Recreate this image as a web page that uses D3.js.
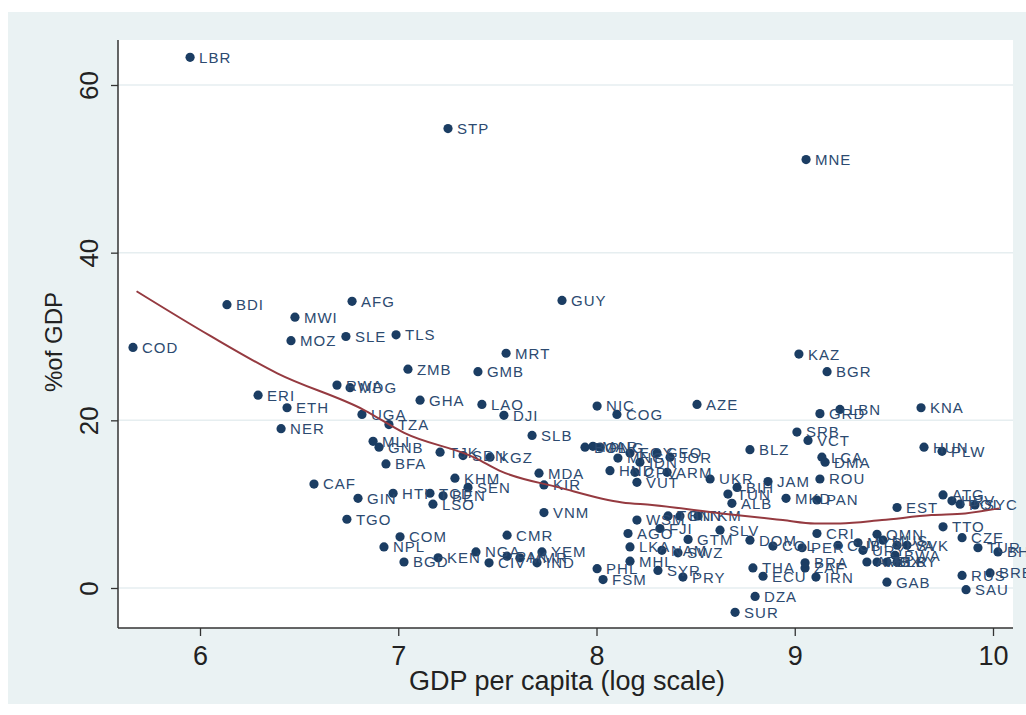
<!DOCTYPE html>
<html>
<head>
<meta charset="utf-8">
<script src="https://cdn.jsdelivr.net/npm/d3@7/dist/d3.min.js"></script>
<style>
  html, body { margin: 0; padding: 0; background: #ffffff; }
  svg { display: block; }
</style>
</head>
<body>
<svg id="chart" width="1026" height="715"></svg>
<script>
// Country codes, log GDP per capita and aid as % of GDP
const codes = [
  "LBR","STP","MNE","BDI","AFG","MWI","GUY","COD","MOZ","SLE",
  "TLS","MRT","ZMB","GMB","KAZ","BGR","RWA","MDG","ERI","ETH",
  "UGA","NER","TZA","GHA","LAO","DJI","NIC","COG","AZE","SLB",
  "MLI","GNB","BFA","TJK","SDN","KGZ","KHM","SEN","HTI","GIN",
  "CAF","TGO","TCD","BEN","LSO","VNM","MDA","KIR","COM","NPL",
  "BGD","KEN","NGA","CIV","YEM","IND","PAK","MMR","CMR","PHL",
  "FSM","BOL","MAR","PNG","MNG","EGY","IDN","GEO","JOR","HND",
  "CPV","ARM","VUT","UKR","BLZ","BIH","TUN","ALB","JAM","MKD",
  "PAN","ROU","SRB","VCT","LCA","DMA","GRD","LBN","KNA","HUN",
  "PLW","WSM","TON","BTN","TKM","AGO","FJI","LKA","SLV","GTM",
  "DOM","COL","PER","NAM","SWZ","MHL","SYR","PRY","THA","ECU",
  "DZA","SUR","ZAF","IRN","CRI","EST","ATG","HRV","POL","SYC",
  "TTO","CZE","TUR","BHS","RUS","BRB","SAU","GAB","OMN","MUS",
  "MYS","URY","LVA","SVK","BWA","ARG","MEX","BLR","LBY","BRA",
  "CUB"
];
const logGdp = [
  5.95, 7.251, 9.057, 6.136, 6.767, 6.479, 7.826, 5.662, 6.459, 6.736,
  6.989, 7.544, 7.049, 7.402, 9.021, 9.163, 6.691, 6.757, 6.293, 6.439,
  6.817, 6.409, 6.953, 7.110, 7.422, 7.533, 8.003, 8.103, 8.507, 7.675,
  6.873, 6.903, 6.938, 7.211, 7.327, 7.463, 7.286, 7.352, 6.974, 6.797,
  6.575, 6.741, 7.160, 7.226, 7.175, 7.735, 7.710, 7.735, 7.009, 6.928,
  7.029, 7.201, 7.392, 7.458, 7.725, 7.700, 7.549, 7.614, 7.549, 8.003,
  8.033, 7.942, 7.982, 8.018, 8.108, 8.169, 8.219, 8.305, 8.371, 8.068,
  8.194, 8.356, 8.204, 8.573, 8.774, 8.709, 8.663, 8.683, 8.865, 8.956,
  9.112, 9.127, 9.011, 9.067, 9.137, 9.153, 9.127, 9.228, 9.637, 9.652,
  9.743, 8.204, 8.361, 8.421, 8.512, 8.159, 8.320, 8.169, 8.623, 8.462,
  8.774, 8.890, 9.037, 8.330, 8.411, 8.169, 8.310, 8.436, 8.789, 8.840,
  8.800, 8.699, 9.052, 9.107, 9.112, 9.516, 9.748, 9.793, 9.834, 9.909,
  9.748, 9.844, 9.924, 10.025, 9.844, 9.985, 9.864, 9.465, 9.415, 9.445,
  9.319, 9.344, 9.516, 9.566, 9.506, 9.364, 9.415, 9.465, 9.516, 9.052,
  9.218
];
const aidShare = [
  63.3, 54.8, 51.1, 33.8, 34.2, 32.3, 34.3, 28.7, 29.5, 30.0,
  30.2, 28.0, 26.1, 25.8, 27.9, 25.8, 24.2, 23.9, 23.0, 21.5,
  20.7, 19.0, 19.5, 22.4, 21.9, 20.6, 21.7, 20.7, 21.9, 18.2,
  17.5, 16.8, 14.8, 16.2, 15.8, 15.6, 13.1, 12.0, 11.3, 10.7,
  12.4, 8.2, 11.3, 11.0, 10.0, 9.0, 13.7, 12.3, 6.1, 4.9,
  3.1, 3.6, 4.3, 3.0, 4.3, 3.0, 3.8, 3.6, 6.3, 2.3,
  1.0, 16.8, 16.9, 16.8, 15.5, 16.1, 15.0, 16.1, 15.6, 14.0,
  13.8, 13.8, 12.6, 13.0, 16.5, 12.0, 11.2, 10.1, 12.7, 10.7,
  10.5, 13.0, 18.6, 17.6, 15.6, 15.0, 20.8, 21.3, 21.5, 16.8,
  16.3, 8.1, 8.6, 8.6, 8.6, 6.5, 7.1, 4.9, 6.9, 5.8,
  5.7, 5.0, 4.8, 4.5, 4.2, 3.2, 2.1, 1.3, 2.4, 1.4,
  -1.0, -2.9, 2.4, 1.3, 6.5, 9.6, 11.1, 10.4, 10.0, 9.9,
  7.3, 6.0, 4.8, 4.3, 1.5, 1.8, -0.2, 0.7, 6.4, 5.7,
  5.4, 4.5, 5.1, 5.1, 3.9, 3.1, 3.1, 3.1, 3.1, 3.0,
  5.1
];

// Smoothed fit of aid share on log income
const fitX = [5.68, 6.05, 6.39, 6.83, 7.03, 7.39, 7.51, 7.81, 8.13, 8.28, 8.63, 8.94, 9.10, 9.23, 9.44, 9.69, 9.86, 10.03];
const fitY = [35.4, 30.1, 25.6, 21.2, 18.5, 15.5, 14.0, 12.0, 10.2, 9.9, 8.9, 8.1, 7.7, 7.7, 8.1, 8.7, 8.9, 9.5];

const xTicks = [6, 7, 8, 9, 10];
const yTicks = [0, 20, 40, 60];

const svg = d3.select("#chart");
const plot = { left: 118, right: 1013, top: 40, bottom: 628 };

// Outer graph region and white plot region
svg.append("rect").attr("x", 8).attr("y", 12).attr("width", 1018).attr("height", 692)
  .attr("fill", "#eaf2f3");
svg.append("rect").attr("x", plot.left).attr("y", plot.top)
  .attr("width", plot.right - plot.left).attr("height", plot.bottom - plot.top)
  .attr("fill", "#ffffff");

const x = d3.scaleLinear().domain([6, 10]).range([200, 993]);
const y = d3.scaleLinear().domain([0, 60]).range([588, 85]);

// Horizontal gridlines
svg.append("g").selectAll("line").data(yTicks).join("line")
  .attr("x1", plot.left).attr("x2", plot.right)
  .attr("y1", d => y(d)).attr("y2", d => y(d))
  .attr("stroke", "#e6eef0").attr("stroke-width", 1.5);

// Axes
const xAxis = svg.append("g").attr("transform", `translate(0,${plot.bottom})`)
  .call(d3.axisBottom(x).tickValues(xTicks).tickSize(8).tickPadding(10).tickFormat(d3.format("d")));
xAxis.select(".domain").attr("d", `M${plot.left},0H${plot.right}`).attr("stroke", "#333").attr("stroke-width", 1.5);
xAxis.selectAll(".tick line").attr("stroke", "#333").attr("stroke-width", 1.3);
xAxis.selectAll(".tick text").attr("font-family", "Liberation Sans, Arial, sans-serif")
  .attr("font-size", 27).attr("fill", "#222").attr("dy", "0.72em");

const yAxis = svg.append("g").attr("transform", `translate(${plot.left},0)`)
  .call(d3.axisLeft(y).tickValues(yTicks).tickSize(7).tickFormat(d3.format("d")));
yAxis.select(".domain").attr("d", `M0,${plot.top}V${plot.bottom}`).attr("stroke", "#333").attr("stroke-width", 1.5);
yAxis.selectAll(".tick line").attr("stroke", "#333").attr("stroke-width", 1.3);
yAxis.selectAll(".tick text")
  .attr("x", null).attr("dy", null)
  .attr("transform", "translate(-20,0) rotate(-90)")
  .attr("text-anchor", "middle")
  .attr("font-family", "Liberation Sans, Arial, sans-serif")
  .attr("font-size", 26).attr("fill", "#222");

// Axis titles
svg.append("text")
  .attr("transform", "translate(62,342) rotate(-90)")
  .attr("text-anchor", "middle")
  .attr("font-family", "Liberation Sans, Arial, sans-serif")
  .attr("font-size", 24).attr("fill", "#222")
  .text("%of GDP");
svg.append("text")
  .attr("x", 567).attr("y", 690)
  .attr("text-anchor", "middle")
  .attr("font-family", "Liberation Sans, Arial, sans-serif")
  .attr("font-size", 27).attr("fill", "#222")
  .text("GDP per capita (log scale)");

// Country points with code labels
const pts = codes.map((c, i) => ({ code: c, gx: logGdp[i], gy: aidShare[i] }));
const pg = svg.append("g");
pg.selectAll("circle").data(pts).join("circle")
  .attr("cx", d => x(d.gx)).attr("cy", d => y(d.gy)).attr("r", 4.6)
  .attr("fill", "#1b3d63");
pg.selectAll("text").data(pts).join("text")
  .attr("x", d => x(d.gx) + 9).attr("y", d => y(d.gy))
  .attr("dy", "0.36em")
  .attr("font-family", "Liberation Sans, Arial, sans-serif")
  .attr("font-size", 15).attr("letter-spacing", 1)
  .attr("fill", "#2c4a70")
  .text(d => d.code);

// Fitted curve
const fit = fitX.map((v, i) => [v, fitY[i]]);
svg.append("path").datum(fit)
  .attr("d", d3.line().x(d => x(d[0])).y(d => y(d[1])).curve(d3.curveMonotoneX))
  .attr("fill", "none").attr("stroke", "#953a40").attr("stroke-width", 2);
</script>
</body>
</html>
